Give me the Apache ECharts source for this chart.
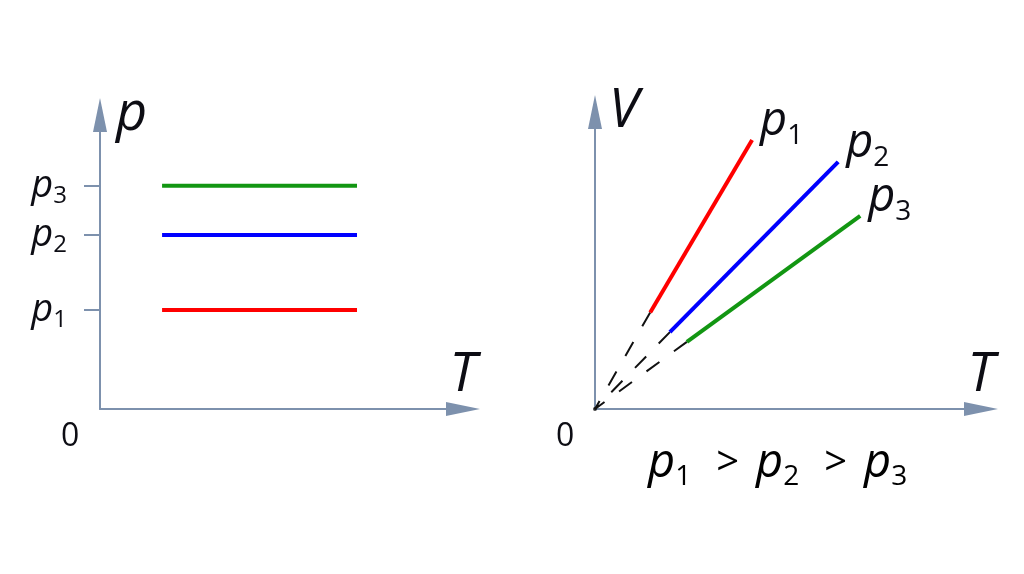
<!DOCTYPE html>
<html><head><meta charset="utf-8">
<script src="https://cdn.jsdelivr.net/npm/echarts@6/dist/echarts.min.js"></script>
<style>html,body{margin:0;padding:0;background:#fff}#c{width:1024px;height:574px}</style>
</head><body><div id="c"></div>
<script>
// ---- data ----
// Left panel (T, p): isobars p = const
const leftT = [1.71, 7.08];               // T range of each horizontal line
const pLevels = [3.37, 5.92, 7.59];       // p1, p2, p3
const pSubs = ['1', '2', '3'];
const lineColors = ['#ff0000', '#0000ff', '#129612'];
// Right panel (T, V): isobars V ~ T
const solidStart = [[1.43, 3.25], [1.94, 2.59], [2.38, 2.26]];
const solidEnd = [[4.07, 9.06], [6.30, 8.32], [6.87, 6.50]];
const origin = [0, 0];
const axisMax = 10;

const AX = '#7d91ad';
const FONT = 'Open Sans';
const TXT = '#0d0d14';

const richBig = {
  p: {fontFamily: FONT, fontStyle: 'italic', fontSize: 47, color: TXT, lineHeight: 56},
  s: {fontFamily: FONT, fontSize: 28, color: TXT, lineHeight: 56, verticalAlign: 'bottom'},
  g: {fontFamily: FONT, fontSize: 40, color: TXT, lineHeight: 56, padding: [0, 17, 0, 25]}
};
const richTick = {
  p: {fontFamily: FONT, fontStyle: 'italic', fontSize: 38, color: TXT, lineHeight: 44},
  s: {fontFamily: FONT, fontSize: 24, color: TXT, lineHeight: 44, verticalAlign: 'bottom'}
};
const nameStyle = {fontFamily: FONT, fontStyle: 'italic', fontSize: 54, color: TXT};

function axisLine() {
  return {show: true, symbol: ['none', 'triangle'], symbolSize: [14, 34],
          lineStyle: {color: AX, width: 2}};
}
function xAx(gi) {
  return {type: 'value', gridIndex: gi, min: 0, max: axisMax,
    axisLine: axisLine(), axisTick: {show: false}, axisLabel: {show: false}, splitLine: {show: false},
    name: 'T', nameLocation: 'end', nameGap: 0,
    nameTextStyle: Object.assign({align: 'center', verticalAlign: 'bottom', padding: [0, 0, 6, 0]}, nameStyle)};
}

const series = [];
pLevels.forEach((p, i) => {
  series.push({type: 'line', xAxisIndex: 0, yAxisIndex: 0, symbol: 'none', silent: true,
    data: [[leftT[0], p], [leftT[1], p]], lineStyle: {color: lineColors[i], width: 4}});
});
solidStart.forEach((s, i) => {
  series.push({type: 'line', xAxisIndex: 1, yAxisIndex: 1, symbol: 'none', silent: true,
    data: [s, origin], lineStyle: {color: '#111', width: 2, type: [16, 18]}});
  series.push({type: 'line', xAxisIndex: 1, yAxisIndex: 1, symbol: 'none', silent: true,
    data: [s, solidEnd[i]], lineStyle: {color: lineColors[i], width: 4},
    endLabel: {show: true, formatter: '{p|p}{s|' + pSubs[i] + '}', rich: richBig, distance: 8, offset: [0, -18]}});
});
series.push({type: 'scatter', xAxisIndex: 1, yAxisIndex: 1, symbolSize: 4, silent: true,
  itemStyle: {color: '#111'}, data: [origin]});

const option = {
  animation: false,
  backgroundColor: '#fff',
  grid: [
    {left: 100, top: 115, width: 363, height: 294},
    {left: 595, top: 112, width: 386, height: 297}
  ],
  xAxis: [xAx(0), xAx(1)],
  yAxis: [
    {type: 'value', gridIndex: 0, min: 0, max: axisMax, axisLine: axisLine(), splitLine: {show: false},
     axisTick: {show: true, customValues: pLevels, length: 16, inside: false, lineStyle: {color: AX, width: 2}},
     axisLabel: {show: true, customValues: pLevels, margin: 33, rich: richTick,
       formatter: v => '{p|p}{s|' + pSubs[pLevels.indexOf(v)] + '}'},
     name: 'p', nameLocation: 'end', nameGap: 0,
     nameTextStyle: Object.assign({align: 'left', verticalAlign: 'middle', padding: [0, 0, 0, 16]}, nameStyle)},
    {type: 'value', gridIndex: 1, min: 0, max: axisMax, axisLine: axisLine(), splitLine: {show: false},
     axisTick: {show: false}, axisLabel: {show: false},
     name: 'V', nameLocation: 'end', nameGap: 0,
     nameTextStyle: Object.assign({align: 'left', verticalAlign: 'middle', padding: [0, 0, 0, 14]}, nameStyle)}
  ],
  graphic: [
    {type: 'text', left: 61, top: 421, style: {text: '0', fontFamily: FONT, fontSize: 32, fill: TXT}},
    {type: 'text', left: 556, top: 421, style: {text: '0', fontFamily: FONT, fontSize: 32, fill: TXT}},
    {type: 'text', left: 648, top: 440, style: {text: '{p|p}{s|1}{g|>}{p|p}{s|2}{g|>}{p|p}{s|3}', rich: richBig}}
  ],
  series: series
};
const chart = echarts.init(document.getElementById('c'), null, {renderer: 'canvas'});
chart.setOption(option);
</script>
</body></html>
